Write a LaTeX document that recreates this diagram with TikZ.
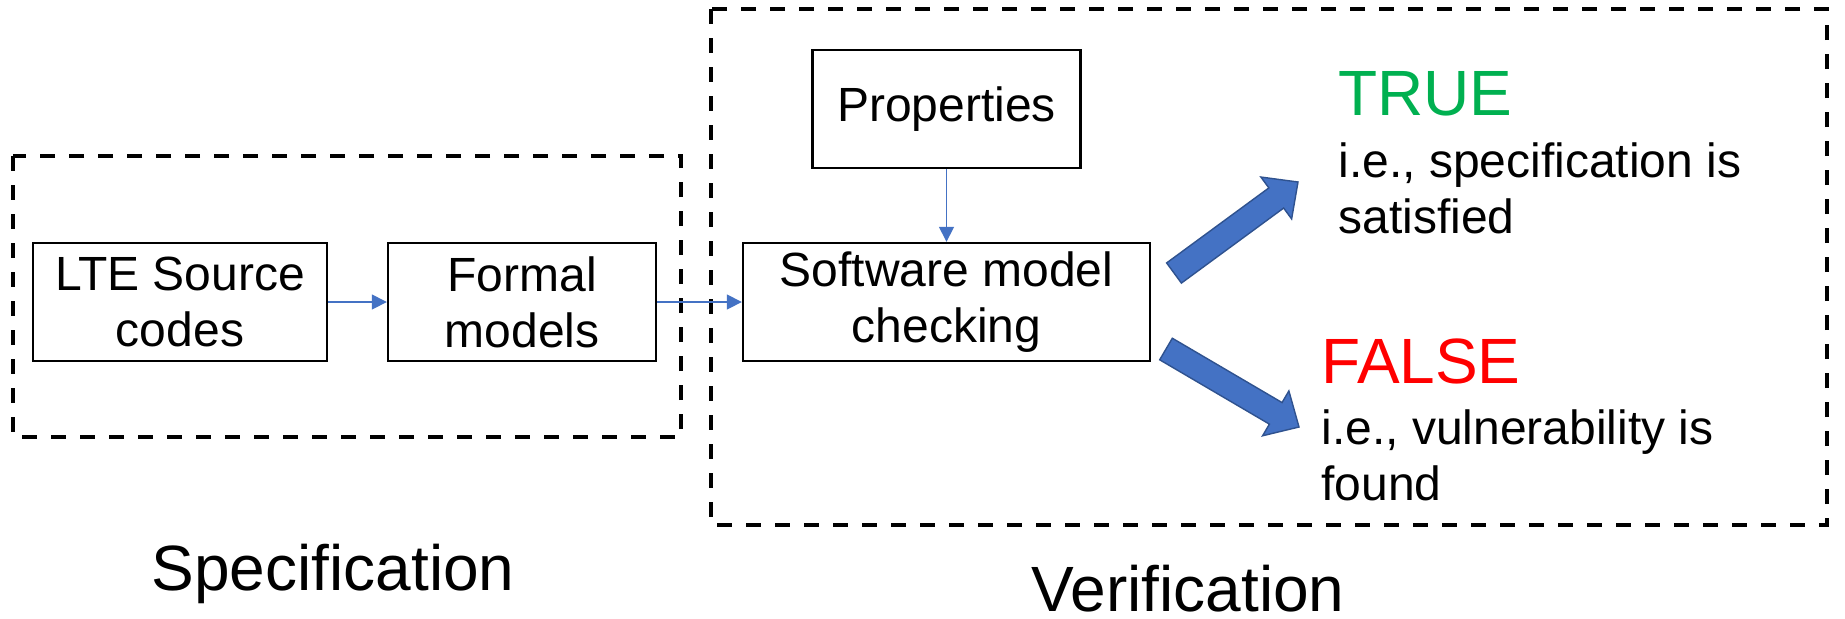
\documentclass[tikz,border=0pt]{standalone}
\usepackage{fontspec}
\setmainfont{Liberation Sans}
\usetikzlibrary{arrows.meta,calc}

\definecolor{flowblue}{HTML}{4472C4}
\definecolor{flowedge}{HTML}{2F528F}
\definecolor{truegreen}{HTML}{00B050}
\definecolor{falsered}{HTML}{FF0000}

\tikzset{
  box/.style={draw,line width=1.2pt,minimum height=59pt,inner sep=0pt,align=center,
    font=\fontsize{24pt}{28pt}\selectfont},
  flow/.style={draw=flowblue,line width=0.8pt,-{Triangle[length=7.5pt,width=7.5pt]}},
  dashbox/.style={line width=2pt,dash pattern=on 7.5pt off 7pt},
  bigarrow/.style={fill=flowblue,draw=flowedge,line width=0.7pt,line join=miter},
  body/.style={inner sep=0pt,align=left,font=\fontsize{24pt}{28pt}\selectfont},
  head/.style={inner sep=0pt,font=\fontsize{32pt}{38pt}\selectfont}
}

% thick arrow from #1 (tail) to #2 (tip)
\newcommand{\blockarrow}[2]{%
  \coordinate (hb) at ($(#2)!13.5pt!(#1)$);
  \filldraw[bigarrow] ($(#1)!6.25pt!90:(#2)$) -- ($(hb)!6.25pt!90:(#2)$)
    -- ($(hb)!13pt!90:(#2)$) -- (#2) -- ($(hb)!13pt!-90:(#2)$)
    -- ($(hb)!6.25pt!-90:(#2)$) -- ($(#1)!6.25pt!-90:(#2)$) -- cycle;}

\begin{document}
\begin{tikzpicture}[x=0.5pt,y=-0.5pt]
  \useasboundingbox (0,0) rectangle (1845,618);

  % the two stages
  \draw[dashbox] (13,156) rectangle (681,437);
  \draw[dashbox] (711,9) rectangle (1827,525);

  \node[box,minimum width=147pt] (lte) at (180,302) {LTE Source\\codes};
  \node[box,minimum width=134pt] (formal) at (522,302) {Formal\\models};
  \node[box,minimum width=203.5pt] (check) at (946.5,302) {Software model\\checking};
  \node[box,minimum width=134pt] (props) at (946.5,109) {Properties};

  \draw[flow] (lte) -- (formal);
  \draw[flow] (formal) -- (check);
  \draw[flow] (props) -- (check);

  % outcomes
  \coordinate (uptail) at (1174,273);
  \coordinate (uptip) at (1298,182);
  \coordinate (lowtail) at (1166,349);
  \coordinate (lowtip) at (1299,427);
  \blockarrow{uptail}{uptip}
  \blockarrow{lowtail}{lowtip}

  % base of a two-line node sits on its last line
  \node[head,text=truegreen,anchor=base west] (truelbl) at (1338,115) {TRUE};
  \node[body,anchor=base west] (truetxt) at (1338,233) {i.e., specification is\\satisfied};
  \node[head,text=falsered,anchor=base west] (falselbl) at (1321,383) {FALSE};
  \node[body,anchor=base west] (falsetxt) at (1321,500) {i.e., vulnerability is\\found};

  \node[head,anchor=base] (speclbl) at (333,590) {Specification};
  \node[head,anchor=base] (verlbl) at (1188,611) {Verification};
\end{tikzpicture}
\end{document}
